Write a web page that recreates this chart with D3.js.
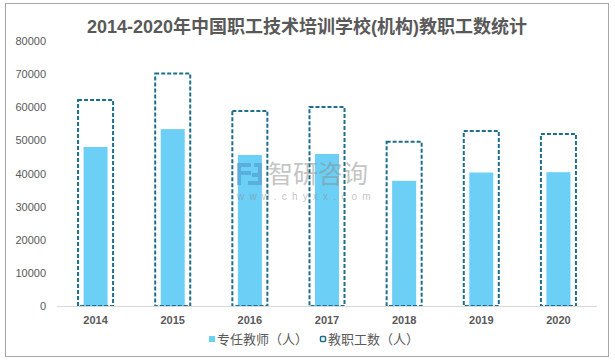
<!DOCTYPE html>
<html>
<head>
<meta charset="utf-8">
<script src="https://cdn.jsdelivr.net/npm/d3@7"></script>
<style>
  body { margin: 0; background: #fff; }
  svg text { font-family: "Liberation Sans", "Noto Sans CJK SC", sans-serif; }
</style>
</head>
<body>
<svg id="chart" width="615" height="362"></svg>
<script>
// data
var years = ["2014", "2015", "2016", "2017", "2018", "2019", "2020"];
var fullTime = [48000, 53400, 45600, 45900, 37800, 40300, 40400];   // 专任教师（人）
var staff = [62200, 70200, 58900, 60100, 49600, 52800, 51900];      // 教职工数（人）
var yTicks = [0, 10000, 20000, 30000, 40000, 50000, 60000, 70000, 80000];
var title = "2014-2020年中国职工技术培训学校(机构)教职工数统计";
var legendNames = ["专任教师（人）", "教职工数（人）"];

var svg = d3.select("svg#chart");
var textCol = "#595959", barCol = "#6CCFF6", boxCol = "#1D6E8C";

// outer frame
svg.append("rect").attr("x", 5.5).attr("y", 3.5).attr("width", 603).attr("height", 353)
   .attr("fill", "none").attr("stroke", "#a6a6a6").attr("stroke-width", 1);

svg.append("text").attr("x", 307).attr("y", 33)
   .attr("text-anchor", "middle").attr("fill", textCol)
   .style("font-size", "18px").style("font-weight", "bold")
   .text(title);

var x = d3.scaleBand().domain(years).range([57, 597]).paddingInner(0.52).paddingOuter(0.26);
var y = d3.scaleLinear().domain([0, 80000]).range([306, 41]);

// y axis labels (no line)
var gy = svg.append("g").attr("transform", "translate(46,0)")
   .call(d3.axisLeft(y).tickValues(yTicks).tickSize(0).tickPadding(0).tickFormat(d3.format("d")));
gy.select(".domain").remove();
gy.selectAll("text").attr("fill", textCol).style("font-size", "11px");

// full-time teacher bars
var bw = 24;
svg.append("g").selectAll("rect").data(years).join("rect")
   .attr("x", d => x(d) + x.bandwidth() / 2 - bw / 2)
   .attr("y", (d, i) => y(fullTime[i]))
   .attr("width", bw)
   .attr("height", (d, i) => y(0) - y(fullTime[i]))
   .attr("fill", barCol);

// total staff, dashed outline
svg.append("g").selectAll("rect").data(years).join("rect")
   .attr("x", d => x(d) + 1)
   .attr("y", (d, i) => y(staff[i]))
   .attr("width", x.bandwidth() - 2)
   .attr("height", (d, i) => y(0) - y(staff[i]))
   .attr("fill", "none").attr("stroke", boxCol).attr("stroke-width", 2)
   .attr("stroke-dasharray", "4,2");

// watermark, drawn over the bars
var wm = svg.append("g").attr("opacity", 0.5).attr("fill", "#8c8c8c");
wm.append("path").attr("d", "M237,163h14v4h-10v4h10v4h-10v10h-4z M254,163h8v22h-14v-4h10v-4h-6v-4h6v-6h-4z")
   .attr("fill", "#4a8fc4");
wm.append("text").attr("x", 268).attr("y", 183).style("font-size", "25px").text("智研咨询");
wm.append("text").attr("x", 237).attr("y", 200).style("font-size", "10px")
   .style("letter-spacing", "5.2px").text("www.chyxx.com");

// x axis
var gx = svg.append("g").attr("transform", "translate(0,306.5)")
   .call(d3.axisBottom(x).tickSize(0).tickPadding(10));
gx.select(".domain").attr("stroke", "#d9d9d9").attr("d", "M57,0H597");
gx.selectAll("text").attr("fill", textCol).style("font-size", "11px").style("font-weight", "bold");

// legend
var lg = svg.append("g").attr("transform", "translate(0,339)");
lg.append("rect").attr("x", 209).attr("y", -3).attr("width", 6).attr("height", 6).attr("fill", barCol);
lg.append("text").attr("x", 217).attr("y", 4.5).attr("fill", textCol)
   .style("font-size", "13px").text(legendNames[0]);
lg.append("rect").attr("x", 320.5).attr("y", -2.5).attr("width", 5).attr("height", 5).attr("rx", 1)
   .attr("fill", "none").attr("stroke", boxCol).attr("stroke-width", 1.5);
lg.append("text").attr("x", 328).attr("y", 4.5).attr("fill", textCol)
   .style("font-size", "13px").text(legendNames[1]);
</script>
</body>
</html>
